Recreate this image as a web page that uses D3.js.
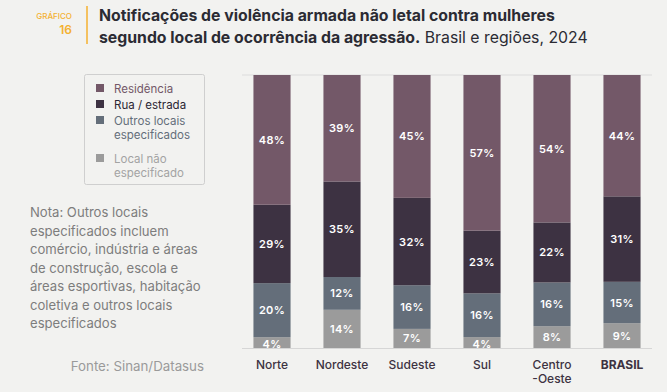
<!DOCTYPE html>
<html><head><meta charset="utf-8">
<script src="https://cdn.jsdelivr.net/npm/d3@7"></script>
<style>
html,body{margin:0;padding:0;background:#f2f2f0;}
svg{display:block;font-family:Inter,"Noto Sans",sans-serif;}
</style></head>
<body><svg id="c" width="667" height="392"></svg>
<script>
const categories = ["Norte","Nordeste","Sudeste","Sul","Centro-Oeste","BRASIL"];
const residencia = [48,39,45,57,54,44];
const rua = [29,35,32,23,22,31];
const outros = [20,12,16,16,16,15];
const naoEspec = [4,14,7,4,8,9];
const seriesNames = ["Residência","Rua / estrada","Outros locais especificados","Local não especificado"];
const colors = ["#735868","#3d3242","#646e7a","#9b9b9b"];

const svg = d3.select("#c");
svg.append("rect").attr("width",667).attr("height",392).attr("fill","#f2f2f0");

// header
svg.append("text").attr("x",72).attr("y",19).attr("text-anchor","end").attr("fill","#f4b130")
  .attr("font-size",8).attr("font-weight",500).text("GRÁFICO");
svg.append("text").attr("x",72).attr("y",34).attr("text-anchor","end").attr("fill","#f4b130")
  .attr("font-size",12).attr("font-weight",600).text("16");
svg.append("line").attr("x1",87).attr("x2",87).attr("y1",6).attr("y2",44).attr("stroke","#f4b130").attr("stroke-width",1.5);
svg.append("text").attr("x",99).attr("y",21).attr("fill","#2b2b33").attr("font-size",15.8).attr("font-weight",700)
  .text("Notificações de violência armada não letal contra mulheres");
const t2 = svg.append("text").attr("x",99).attr("y",43).attr("fill","#2b2b33").attr("font-size",15.8);
t2.append("tspan").attr("font-weight",700).text("segundo local de ocorrência da agressão.");
t2.append("tspan").attr("font-weight",400).text(" Brasil e regiões, 2024");

const data = categories.map((c,i)=>({cat:c, s0:residencia[i], s1:rua[i], s2:outros[i], s3:naoEspec[i]}));
const keys = ["s3","s2","s1","s0"];
const colorOf = {s0:colors[0], s1:colors[1], s2:colors[2], s3:colors[3]};
const stacked = d3.stack().keys(keys).offset(d3.stackOffsetExpand)(data);

const x = d3.scaleBand().domain(categories).range([237,657]).paddingInner(0.47).paddingOuter(0.235);
const y = d3.scaleLinear().domain([0,1]).range([348,75]);

svg.append("line").attr("x1",242).attr("x2",652).attr("y1",y(1)).attr("y2",y(1)).attr("stroke","#dcdcdc").attr("stroke-width",1);

const g = svg.append("g");
stacked.forEach(layer=>{
  const k = layer.key;
  layer.forEach((d,i)=>{
    g.append("rect").attr("x",x(data[i].cat)).attr("width",x.bandwidth())
      .attr("y",y(d[1])).attr("height",y(d[0])-y(d[1])).attr("fill",colorOf[k]);
    const h = y(d[0])-y(d[1]);
    g.append("text").attr("x",x(data[i].cat)+x.bandwidth()/2)
      .attr("y",(y(d[0])+y(d[1]))/2 + 4 + (h<12?1:0))
      .attr("text-anchor","middle").attr("fill","#ffffff").attr("font-size",11).attr("font-weight",600)
      .attr("letter-spacing",0.3)
      .text(data[i][k]+"%");
  });
});
svg.append("line").attr("x1",242).attr("x2",652).attr("y1",y(0)+0.5).attr("y2",y(0)+0.5).attr("stroke","#d6d6d6").attr("stroke-width",1);

const ax = svg.append("g").attr("transform","translate(0,360)").call(d3.axisBottom(x).tickSize(0).tickPadding(0));
ax.select(".domain").remove();
ax.selectAll("text").attr("font-size",12).attr("fill","#3d3242").attr("font-family","Inter,'Noto Sans',sans-serif")
  .attr("dy","0.71em")
  .attr("font-weight",d=>d==="BRASIL"?700:500)
  .each(function(d){
    if(d==="Centro-Oeste"){
      const t=d3.select(this); t.text(null);
      t.append("tspan").attr("x",0).attr("dy","0.71em").text("Centro");
      t.append("tspan").attr("x",0).attr("dy","1.2em").text("-Oeste");
    }
  });

// legend
svg.append("rect").attr("x",84.5).attr("y",74.5).attr("width",120).attr("height",110).attr("rx",2)
  .attr("fill","none").attr("stroke","#cfcfcf");
const legendLines = [["Residência"],["Rua / estrada"],["Outros locais","especificados"],["Local não","especificado"]];
const legY = [88,104,120,158];
const legTextColors = ["#735868","#2b2633","#646e7a","#a3a3a3"];
legendLines.forEach((lines,i)=>{
  svg.append("rect").attr("x",96).attr("y",legY[i]-4).attr("width",8).attr("height",8).attr("fill",colors[i]);
  const t = svg.append("text").attr("x",114).attr("y",legY[i]+4.5).attr("font-size",11.5).attr("fill",legTextColors[i]);
  lines.forEach((l,j)=>t.append("tspan").attr("x",114).attr("dy",j?14:0).text(l));
});

// note
const note = ["Nota: Outros locais","especificados incluem","comércio, indústria e áreas","de construção, escola e","áreas esportivas, habitação","coletiva e outros locais","especificados"];
const nt = svg.append("text").attr("x",30).attr("y",217).attr("font-size",13.1).attr("fill","#7d7d7d");
note.forEach((l,i)=>nt.append("tspan").attr("x",30).attr("dy",i?18.5:0).text(l));

svg.append("text").attr("x",204).attr("y",371).attr("text-anchor","end").attr("font-size",13.3).attr("fill","#9a9a9a")
  .text("Fonte: Sinan/Datasus");
</script></body></html>
